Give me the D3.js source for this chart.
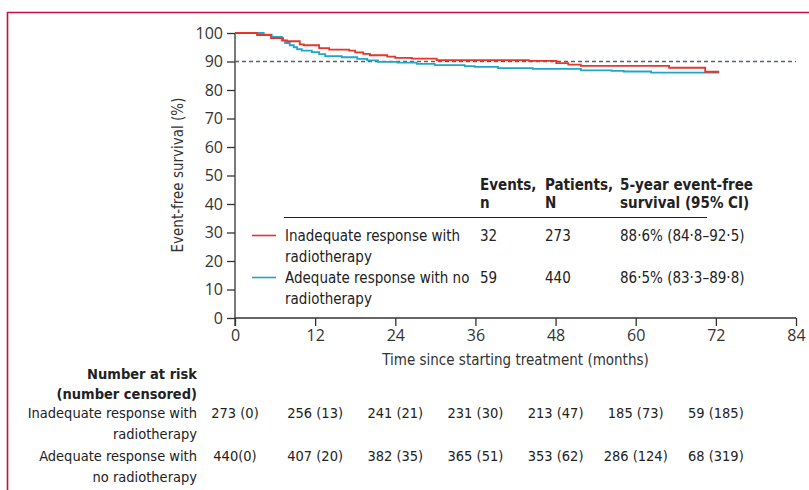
<!DOCTYPE html>
<html><head><meta charset="utf-8">
<script src="https://cdn.jsdelivr.net/npm/d3@7/dist/d3.min.js"></script>
<style>body{margin:0;background:#fff}svg{display:block}</style>
</head><body><svg id="c" width="809" height="490"></svg>
<script>
// ---- data ----
const xTicks = [0, 12, 24, 36, 48, 60, 72, 84];
const yTicks = [0, 10, 20, 30, 40, 50, 60, 70, 80, 90, 100];
const redTimes = [0, 3.3, 5.4, 7.2, 7.8, 9.7, 10.3, 12.6, 14.1, 17.1, 18.0, 19.2, 20.2, 22.8, 24.0, 26.5, 30.2, 44.0, 48.1, 49.9, 51.8, 65.0, 70.4, 72.5];
const redSurv  = [100, 99.3, 98.2, 97.4, 97.1, 96.0, 95.7, 94.7, 94.2, 93.8, 93.2, 92.7, 92.2, 91.7, 91.3, 91.0, 90.5, 90.2, 89.4, 88.9, 88.5, 87.8, 86.4, 86.4];
const blueTimes = [0, 4.3, 5.5, 7.0, 7.5, 8.2, 8.8, 9.3, 10.0, 11.5, 12.6, 13.5, 16.0, 18.3, 19.8, 21.4, 24.3, 27.2, 29.9, 34.4, 35.9, 39.4, 44.6, 51.8, 56.4, 58.2, 62.3, 72.5];
const blueSurv  = [100, 99.4, 98.6, 97.3, 96.5, 95.7, 95.0, 94.3, 93.8, 93.3, 92.6, 91.9, 91.5, 90.9, 90.4, 89.9, 89.6, 89.2, 88.7, 88.4, 88.1, 87.7, 87.4, 86.9, 86.7, 86.5, 86.1, 86.1];
const refLine = 90;
const groupLabels = [["Inadequate response with", "radiotherapy"], ["Adequate response with no", "radiotherapy"]];
const riskLabels = [["Inadequate response with", "radiotherapy"], ["Adequate response with", "no radiotherapy"]];
const events = ["32", "59"];
const patients = ["273", "440"];
const efs = ["88·6% (84·8–92·5)", "86·5% (83·3–89·8)"];
const riskRed  = ["273 (0)", "256 (13)", "241 (21)", "231 (30)", "213 (47)", "185 (73)", "59 (185)"];
const riskBlue = ["440(0)", "407 (20)", "382 (35)", "365 (51)", "353 (62)", "286 (124)", "68 (319)"];
const riskTimes = [0, 12, 24, 36, 48, 60, 72];
const colors = ["#e8342b", "#1ea7c9"];

// ---- font detection ----
function has(f){
  const c=document.createElement('canvas').getContext('2d');
  const s='Inadequate response with 0123456789';
  for (const g of ['monospace','serif']){
    c.font='20px '+g; const a=c.measureText(s).width;
    c.font='20px "'+f+'",'+g; const b=c.measureText(s).width;
    if (a!==b) return true;
  }
  return false;
}
const condCands=['Liberation Sans Narrow','DejaVu Sans Condensed','Roboto','Lato'];
const COND = condCands.find(has) || 'sans-serif';
const TICKF = has('Open Sans') ? 'Open Sans' : 'sans-serif';

const svg = d3.select('#c');
const x = d3.scaleLinear().domain([0, 84]).range([235, 796]);
const y = d3.scaleLinear().domain([0, 100]).range([318, 33]);

// border
svg.append('path').attr('d','M7.5,490 V12.5 H809').attr('fill','none').attr('stroke','#c8103e').attr('stroke-width',1.6);

// axes
const ax = svg.append('g').attr('transform',`translate(0,${y(0)})`)
  .call(d3.axisBottom(x).tickValues(xTicks).tickSize(8).tickPadding(4).tickFormat(d3.format('d')));
const ay = svg.append('g').attr('transform',`translate(${x(0)},0)`)
  .call(d3.axisLeft(y).tickValues(yTicks).tickSize(8).tickPadding(4));
[ax, ay].forEach(g=>{
  g.select('.domain').attr('stroke','#333').attr('stroke-width',1.3);
  g.selectAll('.tick line').attr('stroke','#333').attr('stroke-width',1.3);
  g.selectAll('text').attr('font-family',TICKF).attr('font-size',16).attr('fill','#333');
});
ax.select('.domain').attr('d',`M${x(0)},0H${x(84)}`);
ay.select('.domain').attr('d',`M0,${y(100)}V${y(0)+8}`);

// reference line
svg.append('line').attr('x1',x(0)).attr('x2',x(84)).attr('y1',y(refLine)).attr('y2',y(refLine))
  .attr('stroke','#55656e').attr('stroke-width',1.3).attr('stroke-dasharray','4,3');

// curves
const line = d3.line().x(d=>x(d[0])).y(d=>y(d[1])).curve(d3.curveStepAfter);
[[blueTimes,blueSurv,colors[1]],[redTimes,redSurv,colors[0]]].forEach(([t,s,c])=>{
  svg.append('path').datum(t.map((v,i)=>[v,s[i]])).attr('d',line)
    .attr('fill','none').attr('stroke',c).attr('stroke-width',1.8);
});

// axis titles
svg.append('text').attr('x',(x(0)+x(84))/2).attr('y',365).attr('text-anchor','middle')
  .attr('font-family',COND).attr('font-size',15).attr('fill','#333').text('Time since starting treatment (months)');
svg.append('text').attr('transform','translate(183,175) rotate(-90)').attr('text-anchor','middle')
  .attr('font-family',COND).attr('font-size',15).attr('fill','#333').text('Event-free survival (%)');

// legend table
const lg = svg.append('g').attr('font-family',COND).attr('font-size',15).attr('fill','#222');
const colX = [285, 480, 545, 620];
[["Events,","n",colX[1]],["Patients,","N",colX[2]],["5-year event-free","survival (95% CI)",colX[3]]].forEach(([a,b,cx])=>{
  lg.append('text').attr('x',cx).attr('y',190).attr('font-weight','bold').text(a);
  lg.append('text').attr('x',cx).attr('y',208).attr('font-weight','bold').text(b);
});
lg.append('line').attr('x1',284).attr('x2',707).attr('y1',217.5).attr('y2',217.5).attr('stroke','#222').attr('stroke-width',1.2);
const rowY = [241, 283];
groupLabels.forEach((lab,i)=>{
  lg.append('line').attr('x1',252).attr('x2',276).attr('y1',rowY[i]-5.5).attr('y2',rowY[i]-5.5).attr('stroke',colors[i]).attr('stroke-width',1.6);
  lg.append('text').attr('x',colX[0]).attr('y',rowY[i]).text(lab[0]);
  lg.append('text').attr('x',colX[0]).attr('y',rowY[i]+21).text(lab[1]);
  lg.append('text').attr('x',colX[1]).attr('y',rowY[i]).text(events[i]);
  lg.append('text').attr('x',colX[2]).attr('y',rowY[i]).text(patients[i]);
  lg.append('text').attr('x',colX[3]).attr('y',rowY[i]).text(efs[i]);
});

// risk table
const rt = svg.append('g').attr('font-family',COND).attr('font-size',14.5).attr('fill','#222');
rt.append('text').attr('x',197).attr('y',379).attr('text-anchor','end').attr('font-weight','bold').text('Number at risk');
rt.append('text').attr('x',197).attr('y',399).attr('text-anchor','end').attr('font-weight','bold').text('(number censored)');
const riskY = [418, 461];
[riskRed, riskBlue].forEach((row,i)=>{
  rt.append('text').attr('x',197).attr('y',riskY[i]).attr('text-anchor','end').text(riskLabels[i][0]);
  rt.append('text').attr('x',197).attr('y',riskY[i]+21).attr('text-anchor','end').text(riskLabels[i][1]);
  row.forEach((v,j)=>{
    rt.append('text').attr('x',x(riskTimes[j])).attr('y',riskY[i]).attr('text-anchor','middle').text(v);
  });
});
</script></body></html>
